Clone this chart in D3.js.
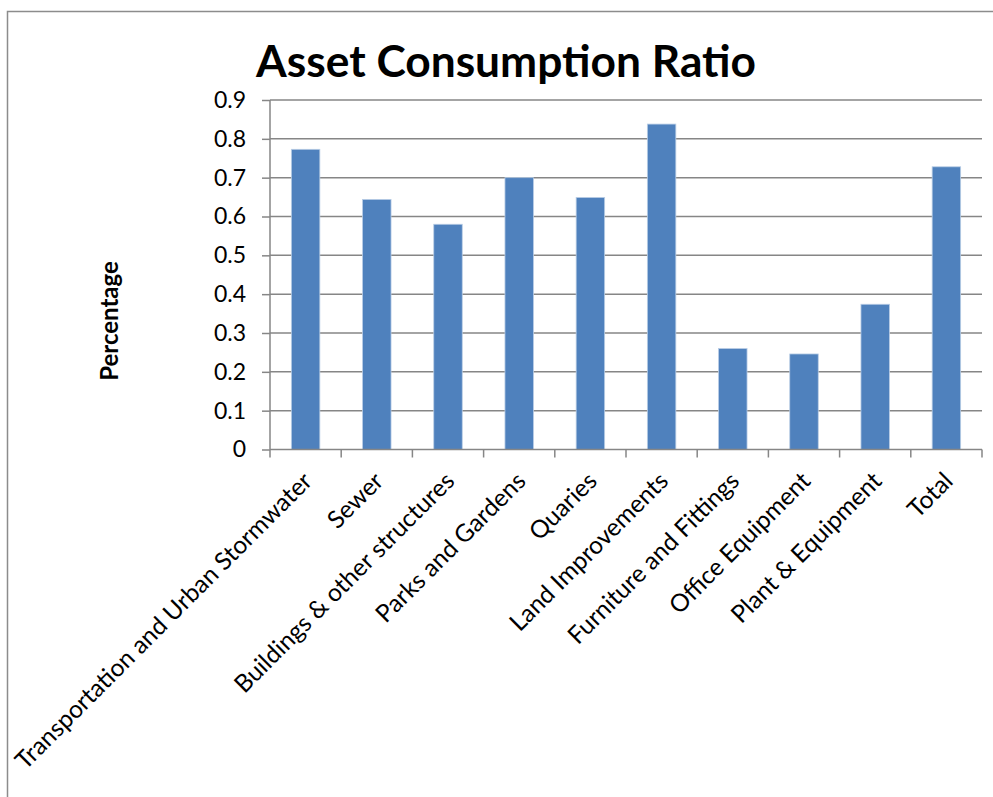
<!DOCTYPE html>
<html>
<head>
<meta charset="utf-8">
<script src="https://cdn.jsdelivr.net/npm/d3@7"></script>
<style>
  html, body { margin: 0; padding: 0; background: #fff; }
  svg { display: block; }
</style>
</head>
<body>
<svg id="chart" width="993" height="797"></svg>
<script>
const categories = [
  "Transportation and Urban Stormwater",
  "Sewer",
  "Buildings & other structures",
  "Parks and Gardens",
  "Quaries",
  "Land Improvements",
  "Furniture and Fittings",
  "Office Equipment",
  "Plant & Equipment",
  "Total"
];
const values = [0.773, 0.644, 0.58, 0.70, 0.649, 0.838, 0.26, 0.246, 0.374, 0.728];
const yTicks = [0, 0.1, 0.2, 0.3, 0.4, 0.5, 0.6, 0.7, 0.8, 0.9];
const titleText = "Asset Consumption Ratio";
const yLabelText = "Percentage";

(function () {
const svg = d3.select("#chart");
const font = "Lato, 'Open Sans', sans-serif";

// chart frame (cropped at right/bottom)
svg.append("path")
  .attr("d", "M7.5,797 L7.5,11.5 L993,11.5")
  .attr("fill", "none").attr("stroke", "#8c8c8c").attr("stroke-width", 1.5);

const pLeft = 270, pRight = 982, pTop = 100, pBottom = 449.5;

const x = d3.scaleBand().domain(categories).range([pLeft, pRight]).paddingInner(0.6).paddingOuter(0.3);
const y = d3.scaleLinear().domain([0, 0.9]).range([pBottom, pTop]);

// gridlines
svg.append("g").selectAll("line").data(yTicks.filter(d => d > 0)).join("line")
  .attr("x1", pLeft).attr("x2", pRight)
  .attr("y1", d => y(d)).attr("y2", d => y(d))
  .attr("stroke", "#868686").attr("stroke-width", 1.5);

// bars
svg.append("g").selectAll("rect").data(values).join("rect")
  .attr("x", (d, i) => x(categories[i]))
  .attr("width", x.bandwidth())
  .attr("y", d => y(d))
  .attr("height", d => y(0) - y(d))
  .attr("fill", "#4f81bd")
  .attr("stroke", "#b9cde5").attr("stroke-width", 0.8);

// y axis
const yAxis = svg.append("g").attr("transform", `translate(${pLeft},0)`)
  .call(d3.axisLeft(y).tickValues(yTicks).tickSize(8).tickPadding(16)
    .tickFormat(d => d === 0 ? "0" : d3.format(".1f")(d)));
yAxis.select(".domain").attr("stroke", "#868686").attr("stroke-width", 1.5).attr("d", `M0,${pTop}V${pBottom}`);
yAxis.selectAll(".tick line").attr("stroke", "#868686").attr("stroke-width", 1.5);
yAxis.selectAll(".tick text").attr("font-family", font).attr("font-size", 23).attr("fill", "#000");

// x axis
const xOuter = d3.scalePoint().domain(d3.range(categories.length + 1)).range([pLeft, pRight]);
const xAxisG = svg.append("g");
xAxisG.append("line").attr("x1", pLeft).attr("x2", pRight).attr("y1", pBottom).attr("y2", pBottom)
  .attr("stroke", "#868686").attr("stroke-width", 1.5);
xAxisG.selectAll("line.tk").data(d3.range(categories.length + 1)).join("line")
  .attr("class", "tk")
  .attr("x1", d => xOuter(d)).attr("x2", d => xOuter(d))
  .attr("y1", pBottom).attr("y2", pBottom + 8)
  .attr("stroke", "#868686").attr("stroke-width", 1.5);

svg.append("g").selectAll("text").data(categories).join("text")
  .attr("transform", d => `translate(${x(d) + x.bandwidth() / 2 + 2},${pBottom + 27}) rotate(-45)`)
  .attr("text-anchor", "end")
  .attr("dy", "0.35em")
  .attr("font-family", font).attr("font-size", 24.5).attr("fill", "#000")
  .text(d => d);

// title
svg.append("text")
  .attr("x", 506).attr("y", 77)
  .attr("text-anchor", "middle")
  .attr("font-family", font).attr("font-weight", "bold").attr("font-size", 44.3)
  .attr("fill", "#000")
  .text(titleText);

// y label
svg.append("text")
  .attr("transform", `translate(118,321) rotate(-90)`)
  .attr("text-anchor", "middle")
  .attr("font-family", font).attr("font-weight", "bold").attr("font-size", 24)
  .attr("fill", "#000")
  .text(yLabelText);
})();
</script>
</body>
</html>
